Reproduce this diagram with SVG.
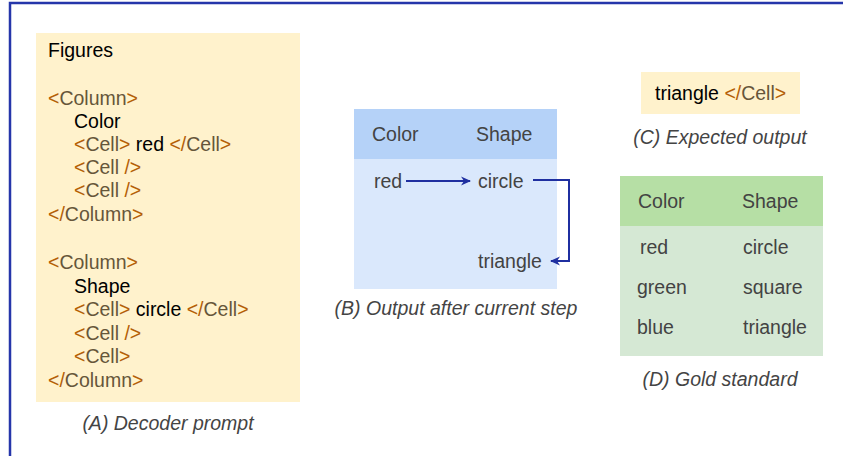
<svg xmlns="http://www.w3.org/2000/svg" width="843" height="456" viewBox="0 0 843 456">
<style>
text{font-family:"Liberation Sans",Arial,sans-serif;font-size:19.5px;}
.k{fill:#000}
.b{fill:#b45f06}
.n{fill:#66563a}
.g{fill:#434343}
.cap{fill:#444;font-style:italic;text-anchor:middle}
.arr{stroke:#1f2fa0;stroke-width:2;fill:none}
</style>
<defs>
<marker id="ah" markerWidth="12" markerHeight="10" refX="9" refY="5" orient="auto" markerUnits="userSpaceOnUse">
<path d="M0,0.5 L10,5 L0,9.5 L3,5 Z" fill="#1f2fa0"/>
</marker>
</defs>
<rect width="843" height="456" fill="#fff"/>
<path d="M10,456 V3 H843" stroke="#2536aa" stroke-width="2.5" fill="none"/>

<g id="A">
<rect x="36" y="33" width="264" height="369" fill="#fff2cc"/>
<text x="48" y="57" class="k">Figures</text>
<text x="48" y="105"><tspan class="b">&lt;</tspan><tspan class="n">Column</tspan><tspan class="b">&gt;</tspan></text>
<text x="74" y="128" class="k">Color</text>
<text x="74" y="151" xml:space="preserve"><tspan class="b">&lt;</tspan><tspan class="n">Cell</tspan><tspan class="b">&gt;</tspan><tspan class="k"> red </tspan><tspan class="b">&lt;/</tspan><tspan class="n">Cell</tspan><tspan class="b">&gt;</tspan></text>
<text x="74" y="174" xml:space="preserve"><tspan class="b">&lt;</tspan><tspan class="n">Cell </tspan><tspan class="b">/&gt;</tspan></text>
<text x="74" y="197" xml:space="preserve"><tspan class="b">&lt;</tspan><tspan class="n">Cell </tspan><tspan class="b">/&gt;</tspan></text>
<text x="48" y="221"><tspan class="b">&lt;/</tspan><tspan class="n">Column</tspan><tspan class="b">&gt;</tspan></text>
<text x="48" y="269"><tspan class="b">&lt;</tspan><tspan class="n">Column</tspan><tspan class="b">&gt;</tspan></text>
<text x="74" y="293" class="k">Shape</text>
<text x="74" y="316" xml:space="preserve"><tspan class="b">&lt;</tspan><tspan class="n">Cell</tspan><tspan class="b">&gt;</tspan><tspan class="k"> circle </tspan><tspan class="b">&lt;/</tspan><tspan class="n">Cell</tspan><tspan class="b">&gt;</tspan></text>
<text x="74" y="340" xml:space="preserve"><tspan class="b">&lt;</tspan><tspan class="n">Cell </tspan><tspan class="b">/&gt;</tspan></text>
<text x="74" y="363"><tspan class="b">&lt;</tspan><tspan class="n">Cell</tspan><tspan class="b">&gt;</tspan></text>
<text x="48" y="387"><tspan class="b">&lt;/</tspan><tspan class="n">Column</tspan><tspan class="b">&gt;</tspan></text>
<text x="168" y="430" class="cap">(A) Decoder prompt</text>
</g>

<g id="B">
<rect x="354" y="109" width="203" height="180" fill="#dae8fc"/>
<rect x="354" y="109" width="203" height="50" fill="#b5d2f8"/>
<text x="372" y="141" class="g">Color</text>
<text x="476" y="141" class="g">Shape</text>
<text x="374" y="188" class="g">red</text>
<text x="478" y="188" class="g">circle</text>
<text x="478" y="268" class="g">triangle</text>
<text x="456" y="315" class="cap">(B) Output after current step</text>
</g>

<g id="C">
<rect x="641" y="72" width="159" height="42" fill="#fff2cc"/>
<text x="655" y="100" xml:space="preserve"><tspan class="k">triangle </tspan><tspan class="b">&lt;/</tspan><tspan class="n">Cell</tspan><tspan class="b">&gt;</tspan></text>
<text x="720" y="144" class="cap">(C) Expected output</text>
</g>

<g id="D">
<rect x="620" y="176" width="203" height="180" fill="#d5e8d4"/>
<rect x="620" y="176" width="203" height="50" fill="#b6dfa5"/>
<text x="638" y="208" class="g">Color</text>
<text x="742" y="208" class="g">Shape</text>
<text x="640" y="254" class="g">red</text>
<text x="743" y="254" class="g">circle</text>
<text x="637" y="294" class="g">green</text>
<text x="743" y="294" class="g">square</text>
<text x="637" y="334" class="g">blue</text>
<text x="743" y="334" class="g">triangle</text>
<text x="720" y="386" class="cap">(D) Gold standard</text>
</g>

<g id="connectors">
<path d="M406,181 H470" class="arr" marker-end="url(#ah)"/>
<path d="M533,180 H569 V261 H551" class="arr" marker-end="url(#ah)"/>
</g>
</svg>
